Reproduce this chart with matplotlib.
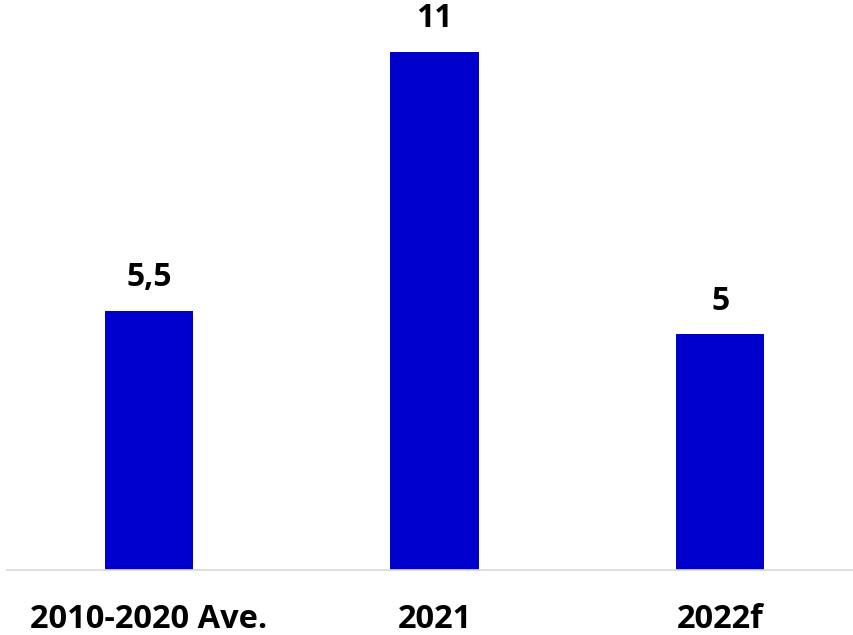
import matplotlib.pyplot as plt

categories = ['2010-2020 Ave.', '2021', '2022f']
values = [5.5, 11, 5]
value_labels = ['5,5', '11', '5']

bar_color = '#0000CC'

fig = plt.figure(figsize=(8.54, 6.35), dpi=100)
ax = fig.add_axes([7 / 854, 65 / 635, 847 / 854, 570 / 635])

x = range(len(categories))
bars = ax.bar(x, values, width=0.31, color=bar_color, zorder=2)

ax.set_xlim(-0.497, 2.469)
ax.set_ylim(0, 12.1)

ax.bar_label(bars, labels=value_labels, padding=12,
             fontsize=23, fontweight='bold', family='Open Sans')

ax.set_xticks(list(x))
ax.set_xticklabels(categories, fontsize=23.5, fontweight='bold', family='Open Sans')
ax.tick_params(axis='x', length=0, pad=24)
ax.set_yticks([])

for side in ['top', 'right', 'left']:
    ax.spines[side].set_visible(False)
ax.spines['bottom'].set_color('#D9D9D9')
ax.spines['bottom'].set_linewidth(1.2)

fig.savefig('out.png', dpi=100)
